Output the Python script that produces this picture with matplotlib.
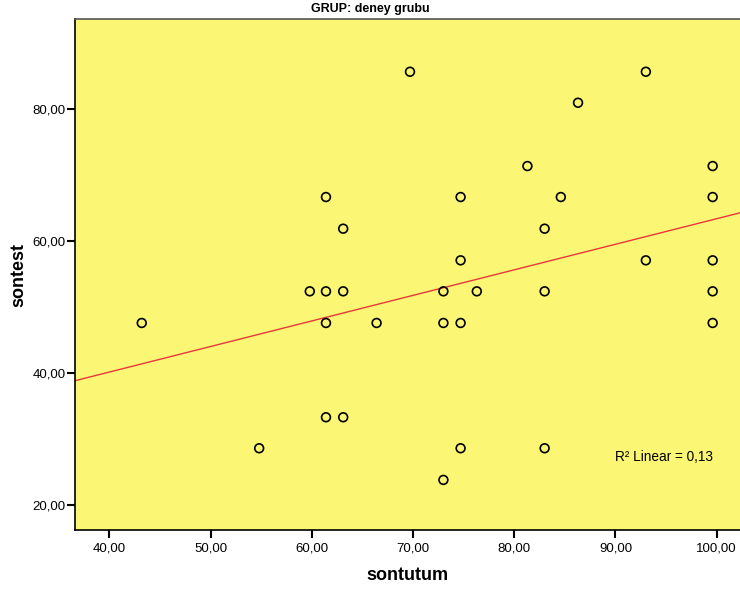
import matplotlib
matplotlib.use('Agg')
import matplotlib.pyplot as plt
import numpy as np

plt.rcParams['font.family'] = ['Liberation Sans', 'DejaVu Sans']

# sontutum / sontest values for GRUP = deney grubu
sontutum = [43.2, 54.8, 59.8, 61.4, 61.4, 61.4, 61.4, 63.1, 63.1, 63.1, 66.4,
            69.7, 73.0, 73.0, 73.0, 74.7, 74.7, 74.7, 74.7, 76.3, 81.3, 83.0,
            83.0, 83.0, 84.6, 86.3, 93.0, 93.0, 99.6, 99.6, 99.6, 99.6, 99.6]
sontest = [47.6, 28.6, 52.4, 66.7, 52.4, 47.6, 33.3, 61.9, 52.4, 33.3, 47.6,
           85.7, 52.4, 47.6, 23.8, 66.7, 57.1, 47.6, 28.6, 52.4, 71.4, 61.9,
           52.4, 28.6, 66.7, 81.0, 85.7, 57.1, 71.4, 66.7, 57.1, 52.4, 47.6]
xticks = [40, 50, 60, 70, 80, 90, 100]
yticks = [20, 40, 60, 80]
r2_label = 'R² Linear = 0,13'

x = np.array(sontutum)
y = np.array(sontest)

fig = plt.figure(figsize=(7.4, 5.92), dpi=100)
ax = fig.add_axes([0.1018, 0.1047, 0.8982, 0.8632])
ax.set_facecolor('#FBF774')

# fit line over the whole x range
b, a = np.polyfit(x, y, 1)
xl = np.array([36.64, 102.3])
ax.plot(xl, a + b * xl, color='#E8363A', lw=1.0, zorder=2)

ax.scatter(x, y, s=40, facecolors='none', edgecolors='black', linewidths=1.2, zorder=3)

ax.set_xlim(36.64, 102.3)
ax.set_ylim(16.2, 93.7)
ax.set_xticks(xticks)
ax.set_yticks(yticks)
ax.set_xticklabels(['%d,00' % t for t in xticks])
ax.set_yticklabels(['%d,00' % t for t in yticks])
ax.tick_params(direction='out', length=6, width=1.5, labelsize=9.5, colors='black')
ax.tick_params(axis='y', pad=1)
ax.tick_params(axis='x', pad=3)

for s in ['left', 'bottom']:
    ax.spines[s].set_linewidth(1.2)
ax.spines['top'].set_color('#555555')
ax.spines['top'].set_linewidth(1.2)
ax.spines['right'].set_visible(False)

ax.set_xlabel('sontutum', fontsize=13, fontweight='bold', labelpad=9)
ax.set_ylabel('sontest', fontsize=13, fontweight='bold', labelpad=4)

ax.text(0.812, 0.142, r2_label, transform=ax.transAxes, fontsize=9.8,
        va='center', ha='left')

fig.text(0.5, 0.985, 'GRUP: deney grubu', fontsize=9, fontweight='bold',
         ha='center', va='center')

fig.savefig('out.png', dpi=100)
